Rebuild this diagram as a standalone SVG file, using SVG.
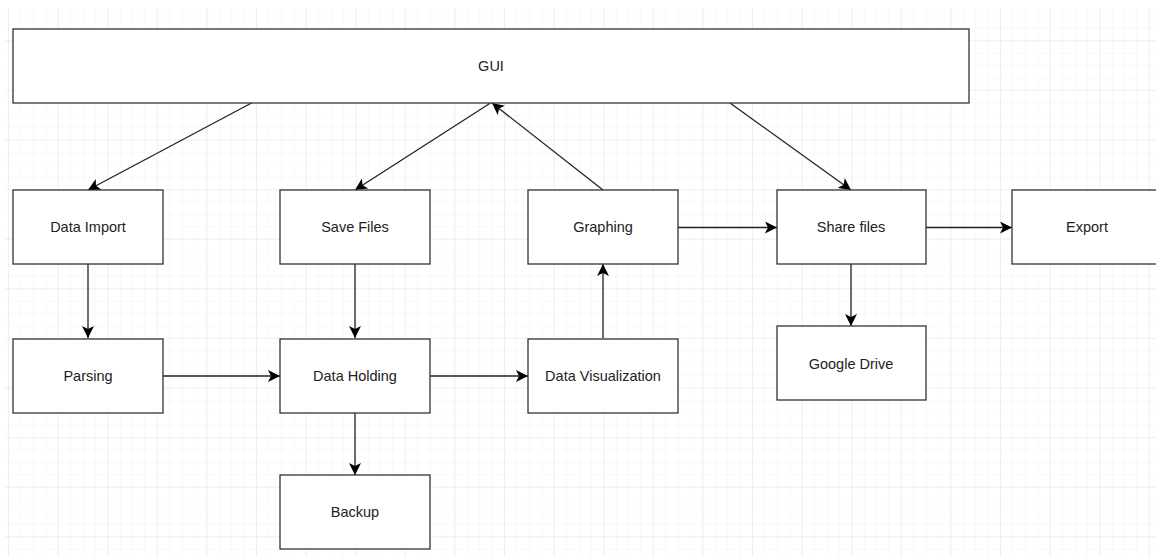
<svg xmlns="http://www.w3.org/2000/svg" width="1156" height="558" viewBox="0 0 1156 558">
<defs>
<pattern id="minor" x="8.1" y="3.1" width="12.4" height="12.4" patternUnits="userSpaceOnUse">
<path d="M0,0 V12.4 M0,0 H12.4" fill="none" stroke="#f2f2f2" stroke-width="1"/>
</pattern>
<pattern id="major" x="8.1" y="40.3" width="49.6" height="49.6" patternUnits="userSpaceOnUse">
<path d="M0,0 V49.6 M0,0 H49.6" fill="none" stroke="#e6e6e6" stroke-width="1"/>
</pattern>
<marker id="arrow" markerUnits="userSpaceOnUse" markerWidth="12" markerHeight="12" refX="10" refY="5" orient="auto" viewBox="0 0 10 10">
<path d="M0,0 L10,5 L0,10 L2.5,5 Z" fill="#000"/>
</marker>
<style>
.box{fill:#fff;stroke:#333;stroke-width:1.3}
.lbl{font-family:"Liberation Sans",Arial,sans-serif;font-size:14.5px;fill:#222;text-anchor:middle;dominant-baseline:central}
.edge{fill:none;stroke:#222;stroke-width:1.3;marker-end:url(#arrow)}
</style>
</defs>
<rect width="1156" height="558" fill="#fff"/>
<g id="grid">
<rect x="5" y="8" width="1151" height="549" fill="url(#minor)"/>
<rect x="5" y="8" width="1151" height="549" fill="url(#major)"/>
</g>
<g id="connectors">
<line class="edge" x1="251.5" y1="103" x2="88" y2="190"/>
<line class="edge" x1="490.5" y1="103" x2="355" y2="190"/>
<line class="edge" x1="603" y1="190" x2="492" y2="103"/>
<line class="edge" x1="730" y1="103" x2="851" y2="190"/>
<line class="edge" x1="678" y1="227.5" x2="777" y2="227.5"/>
<line class="edge" x1="926" y1="227.5" x2="1012" y2="227.5"/>
<line class="edge" x1="88" y1="264" x2="88" y2="338"/>
<line class="edge" x1="163" y1="376" x2="280" y2="376"/>
<line class="edge" x1="355" y1="264" x2="355" y2="338"/>
<line class="edge" x1="430" y1="376" x2="528" y2="376"/>
<line class="edge" x1="603" y1="338" x2="603" y2="264"/>
<line class="edge" x1="355" y1="413" x2="355" y2="475"/>
<line class="edge" x1="851" y1="264" x2="851" y2="326"/>
</g>
<g id="gui"><rect class="box" x="13" y="29" width="956" height="74"/><text class="lbl" x="491" y="66">GUI</text></g>
<g id="data-import"><rect class="box" x="13" y="190" width="150" height="74"/><text class="lbl" x="88" y="227">Data Import</text></g>
<g id="save-files"><rect class="box" x="280" y="190" width="150" height="74"/><text class="lbl" x="355" y="227">Save Files</text></g>
<g id="graphing"><rect class="box" x="528" y="190" width="150" height="74"/><text class="lbl" x="603" y="227">Graphing</text></g>
<g id="share-files"><rect class="box" x="777" y="190" width="149" height="74"/><text class="lbl" x="851" y="227">Share files</text></g>
<g id="export"><rect class="box" x="1012" y="190" width="150" height="74"/><text class="lbl" x="1087" y="227">Export</text></g>
<g id="parsing"><rect class="box" x="13" y="339" width="150" height="74"/><text class="lbl" x="88" y="376">Parsing</text></g>
<g id="data-holding"><rect class="box" x="280" y="339" width="150" height="74"/><text class="lbl" x="355" y="376">Data Holding</text></g>
<g id="data-visualization"><rect class="box" x="528" y="339" width="150" height="74"/><text class="lbl" x="603" y="376">Data Visualization</text></g>
<g id="google-drive"><rect class="box" x="777" y="326" width="149" height="74"/><text class="lbl" x="851" y="364">Google Drive</text></g>
<g id="backup"><rect class="box" x="280" y="475" width="150" height="74"/><text class="lbl" x="355" y="512">Backup</text></g>
</svg>
